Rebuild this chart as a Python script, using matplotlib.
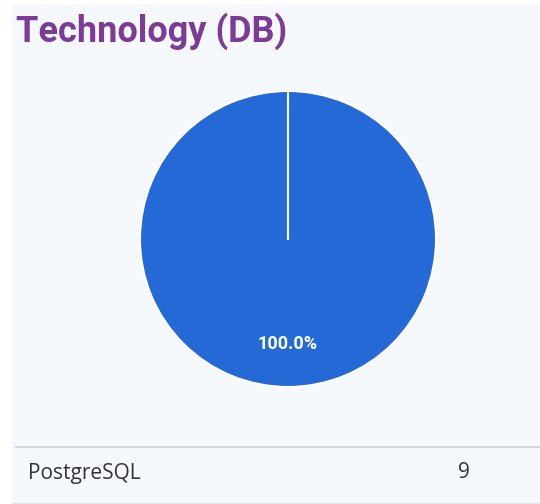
#!/usr/bin/env python3
"""Technology (DB) — single-slice pie with a small count table below."""
import matplotlib
matplotlib.use("Agg")
import matplotlib.pyplot as plt
import numpy as np
from matplotlib.patches import Rectangle

# ── data ──────────────────────────────────────────────────────────────────────
labels = ["PostgreSQL"]
counts = [9]
colors = ["#2469d6"]

TITLE = "Technology (DB)"
W, H = 540, 504
START = 90

fig = plt.figure(figsize=(W / 100, H / 100), dpi=100)
fig.patch.set_facecolor("white")

# panel background
fig.patches.append(Rectangle((12 / W, 1 / H), 1 - 12 / W, (H - 6) / H,
                             transform=fig.transFigure, facecolor="#f5f8fc",
                             edgecolor="none", zorder=-5))

fig.text(16 / W, 1 - 31 / H, TITLE, fontsize=26, fontweight="bold",
         family="Roboto", color="#7b3b96", va="center", ha="left")

# pie
cx, cy, r = 288, 239, 148
ax = fig.add_axes([(cx - r) / W, (H - cy - r) / H, 2 * r / W, 2 * r / H])
ax.set_zorder(2)
wedges, _, autotexts = ax.pie(counts, colors=colors, startangle=START,
                              counterclock=False, autopct="%1.1f%%",
                              pctdistance=0.71,
                              wedgeprops=dict(edgecolor="white", linewidth=1.5),
                              textprops=dict(color="white", fontsize=13,
                                             fontweight="bold", family="Roboto"))
# slice boundaries (a single full slice still shows its seam)
total = sum(counts)
ang = START
for n in counts:
    a = np.deg2rad(ang)
    ax.plot([0, np.cos(a)], [0, np.sin(a)], color="white", lw=1.5, zorder=3)
    ang -= 360 * n / total
ax.set_xlim(-1, 1)
ax.set_ylim(-1, 1)
ax.set_aspect("equal")
ax.axis("off")

# table row
line_y = 1 - 447 / H
fig.add_artist(plt.Line2D([16 / W, 1], [line_y, line_y], transform=fig.transFigure,
                          color="#cfd3d8", linewidth=1.2))
fig.add_artist(plt.Line2D([12 / W, 1], [1 - 502.5 / H] * 2, transform=fig.transFigure,
                          color="#e4e8ee", linewidth=1))
for i, (lab, n) in enumerate(zip(labels, counts)):
    y = 1 - (473 + i * 56) / H
    fig.text(28 / W, y, lab, fontsize=15, family="Open Sans", color="#333333",
             va="center", ha="left")
    fig.text(464 / W, y, str(n), fontsize=15, family="Open Sans", color="#333333",
             va="center", ha="center")

fig.savefig("out.png", dpi=100)
